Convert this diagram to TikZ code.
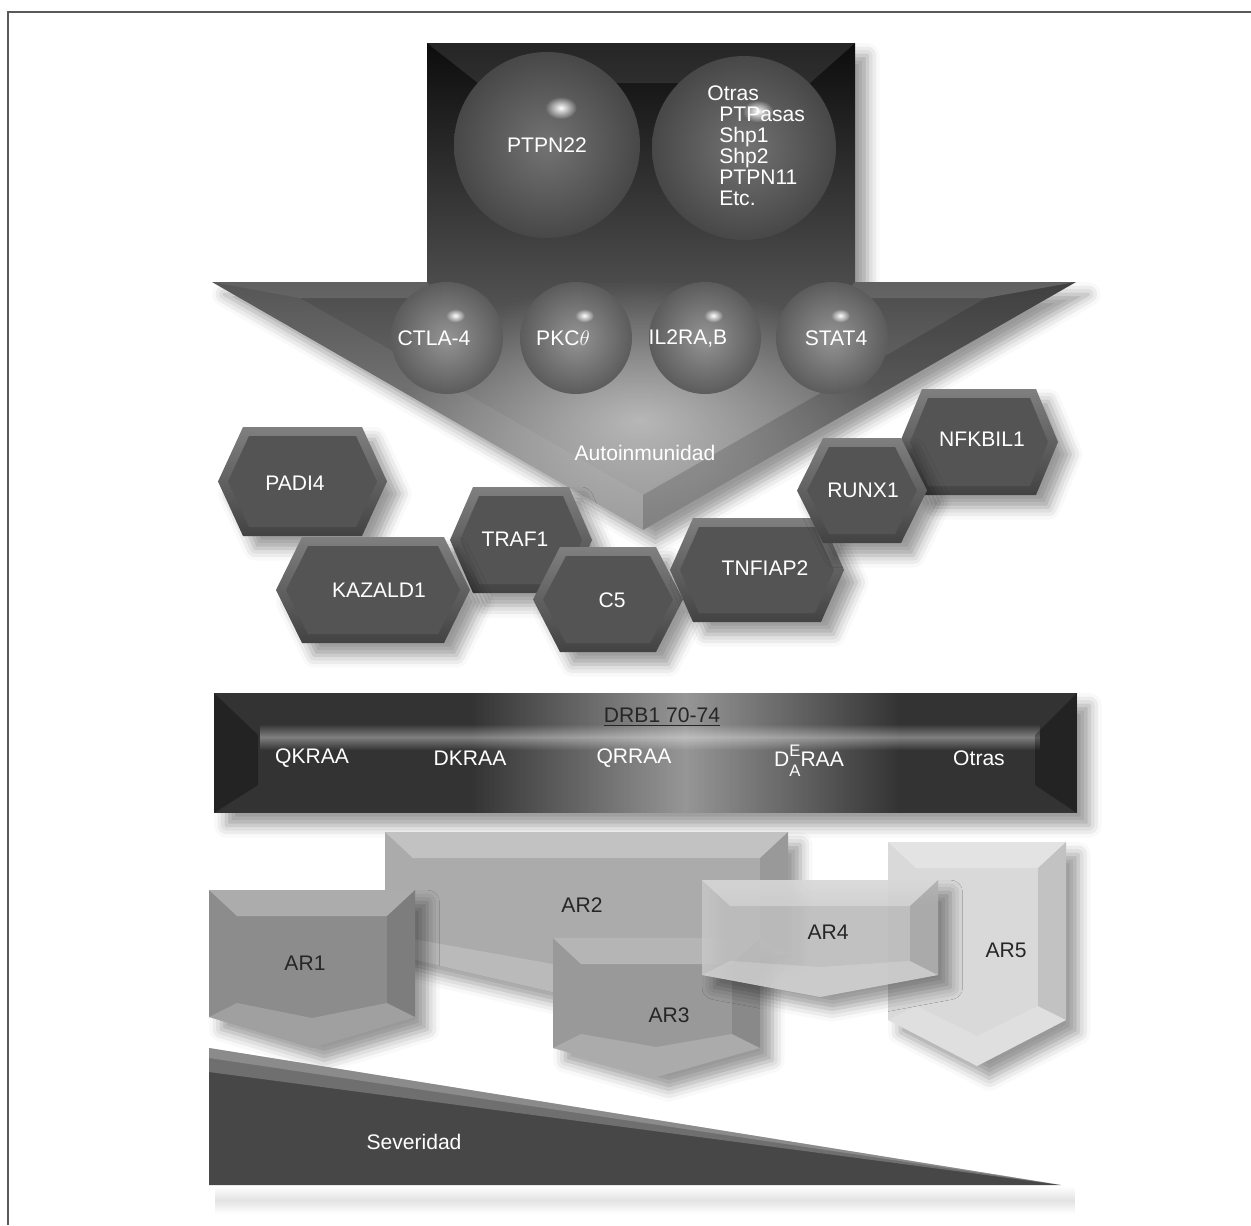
\documentclass[tikz,border=0pt]{standalone}
\usepackage{fontspec}
\setmainfont{Liberation Sans}
\usetikzlibrary{fadings,shadows.blur}

\tikzfading[name=spot, inner color=transparent!0, outer color=transparent!100]
\tikzfading[name=glow, inner color=transparent!50, outer color=transparent!100]
\tikzfading[name=hband, top color=transparent!100, bottom color=transparent!100, middle color=transparent!25]
\tikzfading[name=vband, left color=transparent!100, right color=transparent!100, middle color=transparent!35]

\tikzset{txt/.style={font=\fontsize{12}{12}\selectfont, inner sep=0pt},
         light txt/.style={txt, text=white},
         dark txt/.style={txt, text=black!85},
         soft shadow/.style={blur shadow={shadow xshift=7pt, shadow yshift=-7pt, shadow blur radius=7pt, shadow opacity=40}},
         ball face/.style={inner color=black!42, outer color=black!64},
         big ball face/.style={inner color=black!55, outer color=black!72},
         hex rim/.style={top color=black!50, bottom color=black!74, soft shadow},
         hex face/.style={fill=black!67},
            }

% sphere: x, y, radius, style
\newcommand{\ball}[4]{%
  \shade[#4] (#1,#2) circle [radius=#3];
  \fill[white, path fading=spot] ({#1+0.15*#3},{#2-0.4*#3}) ellipse [x radius={0.17*#3}, y radius={0.12*#3}];
}

% hexagon: name, cx, cy, half width, half height, inset, text, text x, text y
\newcommand{\hexbox}[9]{%
  \path[hex rim] ({#2-#4},#3) -- ({#2-#4+#6},{#3-#5}) -- ({#2+#4-#6},{#3-#5}) -- ({#2+#4},#3)
     -- ({#2+#4-#6},{#3+#5}) -- ({#2-#4+#6},{#3+#5}) -- cycle;
  \fill[hex face] ({#2-#4+10},#3) -- ({#2-#4+#6+6},{#3-#5+9}) -- ({#2+#4-#6-6},{#3-#5+9}) -- ({#2+#4-10},#3)
     -- ({#2+#4-#6-6},{#3+#5-9}) -- ({#2-#4+#6+6},{#3+#5-9}) -- cycle;
  \node[light txt] (#1) at (#8,#9) {#7};
}

% down pentagon: left, right, top, side bottom, tip, colour, opacity
\newcommand{\arbox}[7]{%
  \fill[#6, fill opacity=#7, soft shadow] (#1,#3) -- (#2,#3) -- (#2,#4) -- ({(#1+#2)/2},#5) -- (#1,#4) -- cycle;
  \fill[white, fill opacity=0.28] (#1,#3) -- (#2,#3) -- ({#2-28},{#3+26}) -- ({#1+28},{#3+26}) -- cycle;
  \fill[black, fill opacity=0.10] (#2,#3) -- (#2,#4) -- ({#2-28},{#4-14}) -- ({#2-28},{#3+26}) -- cycle;
  \fill[white, fill opacity=0.18] (#1,#4) -- ({(#1+#2)/2},#5) -- (#2,#4) -- ({#2-28},{#4-14})
     -- ({(#1+#2)/2},{#5-30}) -- ({#1+28},{#4-14}) -- cycle;
}

\begin{document}
\begin{tikzpicture}[x=0.02cm, y=-0.02cm]
    \useasboundingbox (0,0) rectangle (1251,1225);
    \draw[black!65, line width=0.04cm] (8,1225) -- (8,12) -- (1251,12);

    % big arrow
    \path[soft shadow, top color=black!95, middle color=black!62, bottom color=black!45]
      (427,43) -- (855,43) -- (855,282) -- (1076,282) -- (643,530) -- (212,282) -- (427,282) -- cycle;
    \begin{scope}
      \clip (427,43) -- (855,43) -- (855,282) -- (1076,282) -- (643,530) -- (212,282) -- (427,282) -- cycle;
      \fill[white, path fading=glow] (640,420) ellipse (240 and 140);
    \end{scope}
    \fill[white, fill opacity=0.10] (427,43) -- (855,43) -- (810,83) -- (478,83) -- cycle;
    \fill[white, fill opacity=0.12] (212,282) -- (427,282) -- (440,298) -- (300,298) -- cycle;
    \fill[white, fill opacity=0.12] (1076,282) -- (855,282) -- (842,298) -- (986,298) -- cycle;
    \fill[white, fill opacity=0.06] (212,282) -- (643,530) -- (643,495) -- (300,298) -- cycle;
    \fill[black, fill opacity=0.15] (1076,282) -- (643,530) -- (643,495) -- (986,298) -- cycle;

    \ball{547}{145}{93}{big ball face}
    \ball{744}{148}{92}{big ball face}
    \ball{447}{338}{56}{ball face}
    \ball{576}{338}{56}{ball face}
    \ball{705}{338}{56}{ball face}
    \ball{832}{338}{56}{ball face}

    \node[light txt] (ptpn) at (547,145) {PTPN22};
    \node[light txt, align=left, anchor=north west] (otras) at (707,85)
      {Otras\\\hspace*{6.8pt}PTPasas\\\hspace*{6.8pt}Shp1\\\hspace*{6.8pt}Shp2\\\hspace*{6.8pt}PTPN11\\\hspace*{6.8pt}Etc.};
    \node[light txt] (ctla) at (434,338) {CTLA-4};
    \node[light txt] (pkc) at (563,338) {PKC$\theta$};
    \node[light txt] (ilra) at (688,338) {IL2RA,B};
    \node[light txt] (stat) at (836,338) {STAT4};
    \node[light txt] (auto) at (645,453) {Autoinmunidad};

    % genes
    \hexbox{padi}{302.5}{481.5}{84.5}{54.5}{25}{PADI4}{295}{483}
    \hexbox{traf}{521}{540}{71}{53}{23}{TRAF1}{515}{539}
    \hexbox{kazald}{373}{590}{97}{53}{26}{KAZALD1}{379}{590}
    \hexbox{cfive}{608}{599.5}{75}{52.5}{27}{C5}{612}{600}
    \hexbox{tnfiap}{757}{570}{87}{52}{23}{TNFIAP2}{765}{568}
    \hexbox{nfkbil}{979}{442}{79}{53}{22}{NFKBIL1}{982}{439}
    \hexbox{runx}{862}{490.5}{65}{52.5}{26}{RUNX1}{863}{490}

    % DRB1 bar
    \path[soft shadow, fill=black!80] (214,693) rectangle (1077,813);
    \fill[white, path fading=vband, fill opacity=0.75] (470,693) rectangle (900,813);
    \fill[white, path fading=hband, fill opacity=0.5] (260,724) rectangle (1040,750);
    \fill[black, fill opacity=0.3] (214,693) -- (258,735) -- (258,785) -- (214,813) -- cycle;
    \fill[black, fill opacity=0.3] (1077,693) -- (1035,735) -- (1035,785) -- (1077,813) -- cycle;

    \node[dark txt] (drb) at (662,717) {\underline{DRB1 70-74}};
    \node[light txt] (qk) at (312,758) {QKRAA};
    \node[light txt] (dk) at (470,758) {DKRAA};
    \node[light txt] (qr) at (634,758) {QRRAA};
    \node[light txt, anchor=base] (dea) at (809,766)
      {D\raisebox{-6.2pt}{\fontsize{9.5}{9.5}\selectfont\shortstack{E\\[2pt]A}}RAA};
    \node[light txt] (otr) at (979,758) {Otras};

    % AR groups
    \arbox{385}{788}{832}{953}{1000}{black!33}{1}
    \arbox{888}{1066}{842}{1020}{1066}{black!15}{1}
    \arbox{209}{415}{890}{1017}{1048}{black!45}{1}
    \arbox{553}{760}{938}{1048}{1077}{black!40}{1}
    \arbox{702}{938}{880}{975}{997}{black!22}{0.88}

    \node[dark txt] (ar1) at (305,963) {AR1};
    \node[dark txt] (ar2) at (582,905) {AR2};
    \node[dark txt] (ar3) at (669,1015) {AR3};
    \node[dark txt] (ar4) at (828,932) {AR4};
    \node[dark txt] (ar5) at (1006,950) {AR5};

    % severity
    \fill[black!15, path fading=hband] (215,1186) rectangle (1075,1214);
    \fill[black!72] (209,1048) -- (1061,1185) -- (209,1185) -- cycle;
    \fill[white, fill opacity=0.22] (209,1048) -- (1061,1185) -- (209,1072) -- cycle;
    \fill[white, fill opacity=0.2] (209,1048) -- (1061,1185) -- (209,1058) -- cycle;
    \node[light txt] (sev) at (414,1142) {Severidad};
\end{tikzpicture}
\end{document}
